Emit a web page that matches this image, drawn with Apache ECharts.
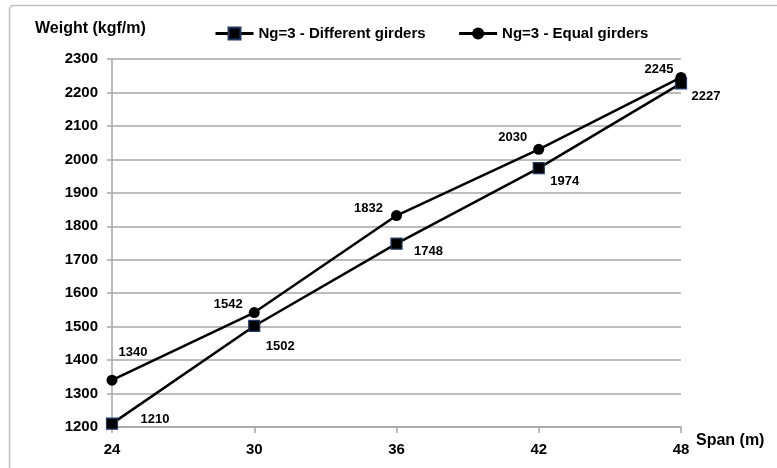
<!DOCTYPE html>
<html>
<head>
<meta charset="utf-8">
<script src="https://cdn.jsdelivr.net/npm/echarts@6/dist/echarts.min.js"></script>
<style>
  html, body { margin: 0; padding: 0; background: #ffffff; }
  #chart { width: 777px; height: 468px; }
</style>
</head>
<body>
<div id="chart"></div>
<script>
// Span of the bridge (m)
const spans = ['24', '30', '36', '42', '48'];
// Girder weight per metre (kgf/m)
const differentGirders = [1210, 1502, 1748, 1974, 2227];
const equalGirders = [1340, 1542, 1832, 2030, 2245];
const seriesNames = ['Ng=3 - Different girders', 'Ng=3 - Equal girders'];
const yMin = 1200, yMax = 2300, yStep = 100;

// Where each value label sits relative to its marker (px)
const differentLabelOffsets = [[43, -4], [26, 20], [32, 8], [26, 13], [25, 13]];
const equalLabelOffsets = [[21, -28], [-26, -8], [-28, -7], [-26, -12], [-22, -8]];

const FONT = "'Liberation Sans', Arial, sans-serif";
const GRID_GRAY = '#a6a6a6';

function withLabels(values, offsets) {
  return values.map((v, i) => ({
    value: v,
    label: { offset: offsets[i] }
  }));
}

const labelStyle = {
  show: true,
  position: 'inside',
  color: '#000',
  fontFamily: FONT,
  fontWeight: 'bold',
  fontSize: 13
};

const chart = echarts.init(document.getElementById('chart'), null, { renderer: 'canvas' });

chart.setOption({
  animation: false,
  backgroundColor: '#ffffff',
  graphic: [{
    type: 'rect',
    left: 7, top: 3,
    shape: { width: 820, height: 520, r: 4 },
    style: { fill: 'none', stroke: '#bfbfbf', lineWidth: 1.5 },
    silent: true
  }],
  title: {
    text: 'Weight (kgf/m)',
    left: 35, top: 21,
    padding: 0,
    textStyle: { fontFamily: FONT, fontWeight: 'bold', fontSize: 16, color: '#000' }
  },
  legend: {
    left: 214, top: 26,
    padding: 0,
    itemWidth: 38, itemHeight: 15,
    itemGap: 32,
    lineStyle: { width: 3 },
    textStyle: { fontFamily: FONT, fontWeight: 'bold', fontSize: 15, color: '#000' },
    data: seriesNames
  },
  grid: {
    left: 112, right: 96, top: 59, bottom: 41,
    containLabel: false,
    outerBoundsMode: 'none'
  },
  xAxis: {
    type: 'category',
    data: spans,
    boundaryGap: false,
    name: 'Span (m)',
    nameLocation: 'end',
    nameGap: 15,
    nameTextStyle: {
      fontFamily: FONT, fontWeight: 'bold', fontSize: 16, color: '#000',
      verticalAlign: 'top', align: 'left', padding: [6, 0, 0, 0]
    },
    axisLine: { show: true, lineStyle: { color: GRID_GRAY, width: 1.5 } },
    axisTick: { show: true, alignWithLabel: true, length: 6, lineStyle: { color: GRID_GRAY, width: 1.5 } },
    axisLabel: {
      margin: 15,
      fontFamily: FONT, fontWeight: 'bold', fontSize: 15, color: '#000'
    },
    splitLine: { show: false }
  },
  yAxis: {
    type: 'value',
    min: yMin, max: yMax, interval: yStep,
    axisLine: { show: true, lineStyle: { color: GRID_GRAY, width: 1.5 } },
    axisTick: { show: true, length: 5, lineStyle: { color: GRID_GRAY, width: 1.5 } },
    axisLabel: {
      margin: 14,
      formatter: (v) => String(v),
      fontFamily: FONT, fontWeight: 'bold', fontSize: 15, color: '#000'
    },
    splitLine: { show: true, lineStyle: { color: GRID_GRAY, width: 1.5 } }
  },
  series: [
    {
      name: seriesNames[0],
      type: 'line',
      data: withLabels(differentGirders, differentLabelOffsets),
      symbol: 'rect',
      symbolSize: 11,
      itemStyle: { color: '#000', borderColor: '#1f3864', borderWidth: 1.2 },
      lineStyle: { color: '#000', width: 2.5 },
      label: labelStyle,
      z: 2
    },
    {
      name: seriesNames[1],
      type: 'line',
      data: withLabels(equalGirders, equalLabelOffsets),
      symbol: 'circle',
      symbolSize: 11,
      itemStyle: { color: '#000', borderColor: '#000', borderWidth: 0 },
      lineStyle: { color: '#000', width: 2.5 },
      label: labelStyle,
      z: 3
    }
  ]
});
</script>
</body>
</html>
